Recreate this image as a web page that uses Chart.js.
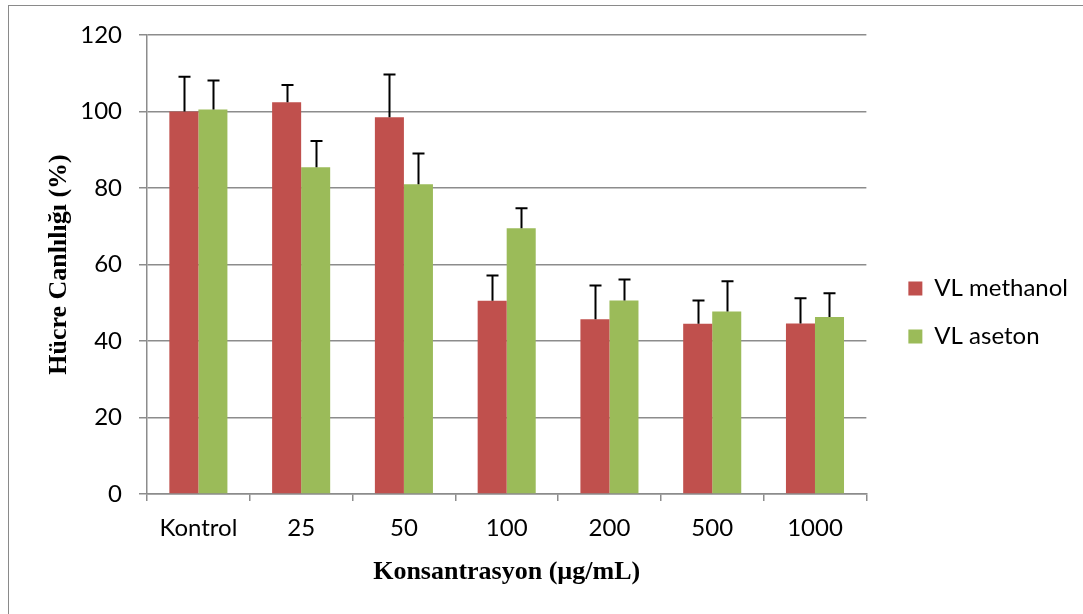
<!DOCTYPE html>
<html>
<head>
<meta charset="utf-8">
<script src="https://cdn.jsdelivr.net/npm/chart.js@4"></script>
<style>
  body { margin: 0; background: #fff; overflow: hidden; }
  .frame { position: absolute; left: 8px; top: 5px; width: 1100px; height: 620px; border: 1px solid #8a8a8a; }
  .wrap { position: absolute; left: 0; top: 0; width: 1083px; height: 614px; }
</style>
</head>
<body>
<div class="frame"></div>
<div class="wrap"><canvas id="chart"></canvas></div>
<script>
const categories = ['Kontrol', '25', '50', '100', '200', '500', '1000'];
const methanolValues = [100, 102.4, 98.5, 50.5, 45.7, 44.5, 44.6];
const methanolErrors = [9.1, 4.5, 11.2, 6.6, 8.8, 6.1, 6.6];
const asetonValues = [100.5, 85.4, 81.0, 69.5, 50.6, 47.7, 46.3];
const asetonErrors = [7.6, 6.9, 8.0, 5.2, 5.5, 7.9, 6.2];
const yTicks = [0, 20, 40, 60, 80, 100, 120];

const gridColor = '#8c8c8c';
const tickFont = { family: 'Lato', size: 24 };
const titleFont = { family: 'Liberation Serif', size: 26, weight: 'bold' };

// upper-only error bars with a cap, like the Excel original
const errorBars = {
  id: 'errorBars',
  afterDatasetsDraw(chart) {
    const ctx = chart.ctx;
    const y = chart.scales.y;
    ctx.save();
    ctx.strokeStyle = '#000';
    ctx.lineWidth = 2;
    chart.data.datasets.forEach((ds, i) => {
      const meta = chart.getDatasetMeta(i);
      meta.data.forEach((bar, j) => {
        const top = y.getPixelForValue(ds.data[j] + ds.errors[j]);
        const x = Math.round(bar.x) + 0.5;
        ctx.beginPath();
        ctx.moveTo(x, bar.y);
        ctx.lineTo(x, top);
        ctx.moveTo(x - 6, top);
        ctx.lineTo(x + 6, top);
        ctx.stroke();
      });
    });
    ctx.restore();
  }
};

// nudge the legend block to where it sits in the picture
const legendNudge = {
  id: 'legendNudge',
  afterLayout(chart) {
    const lg = chart.legend;
    lg.left += 18; lg.right += 18;
    lg.top -= 12; lg.bottom -= 12;
  }
};

new Chart(document.getElementById('chart'), {
  type: 'bar',
  data: {
    labels: categories,
    datasets: [
      { label: 'VL methanol', data: methanolValues, errors: methanolErrors, backgroundColor: '#c0504d' },
      { label: 'VL aseton', data: asetonValues, errors: asetonErrors, backgroundColor: '#9bbb59' }
    ]
  },
  options: {
    responsive: true,
    maintainAspectRatio: false,
    animation: false,
    layout: { padding: { top: 35, right: 23, bottom: 0, left: 0 } },
    datasets: { bar: { barPercentage: 1, categoryPercentage: 0.565 } },
    plugins: {
      tooltip: { enabled: false },
      legend: {
        position: 'right',
        labels: { boxWidth: 14, boxHeight: 14, padding: 24, color: '#000', font: { family: 'Lato', size: 24 } }
      }
    },
    scales: {
      x: {
        afterFit(scale) { scale.height = 120; },
        grid: { drawOnChartArea: false, tickLength: 7, color: gridColor, lineWidth: 1.5 },
        border: { color: gridColor, width: 1.5 },
        ticks: { color: '#000', font: tickFont, padding: 13, maxRotation: 0 },
        title: { display: true, text: 'Konsantrasyon (µg/mL)', color: '#000', font: titleFont, padding: { top: 0, bottom: 26 } }
      },
      y: {
        min: 0,
        max: 120,
        afterFit(scale) { scale.width = 147; },
        afterBuildTicks(scale) { scale.ticks = yTicks.map(v => ({ value: v })); },
        grid: { tickLength: 8, color: gridColor, lineWidth: 1.5 },
        border: { color: gridColor, width: 1.5 },
        ticks: { color: '#000', font: tickFont, padding: 17 },
        title: { display: true, text: 'Hücre Canlılığı (%)', color: '#000', font: titleFont, padding: { top: 44, bottom: 0 } }
      }
    }
  },
  plugins: [errorBars, legendNudge]
});
</script>
</body>
</html>
